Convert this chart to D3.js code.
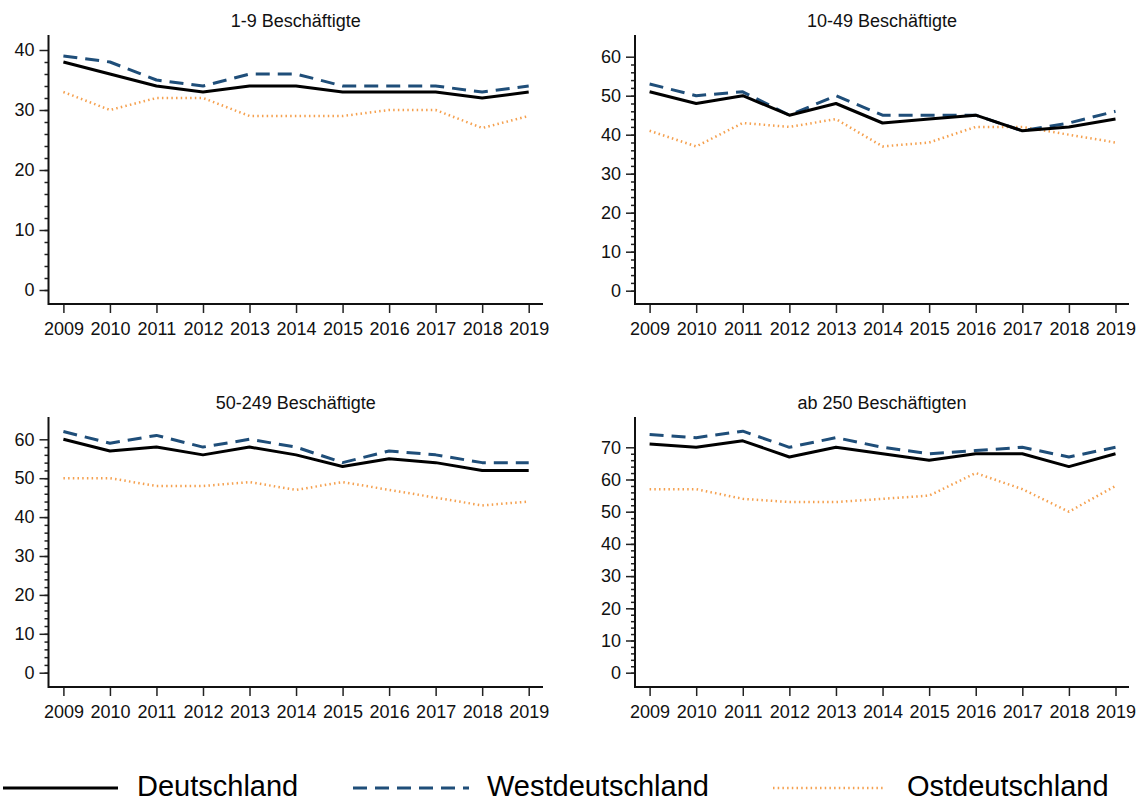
<!DOCTYPE html>
<html>
<head>
  <meta charset="UTF-8">
  <style>
    body { margin: 0; background: #fff; }
    svg { display: block; font-family: Arial, "Liberation Sans", sans-serif; }
  </style>
</head>
<body>
<svg></svg>
<script src="https://d3js.org/d3.v7.min.js"></script>
<script>

let width = 1140, height = 802;

let svg = d3.select("svg")
    .attr("width", width)
    .attr("height", height);

// data
const years = [2009, 2010, 2011, 2012, 2013, 2014, 2015, 2016, 2017, 2018, 2019];
const panelTitles = ["1-9 Beschäftigte", "10-49 Beschäftigte", "50-249 Beschäftigte", "ab 250 Beschäftigten"];
const yTicks = [
    [0, 10, 20, 30, 40],
    [0, 10, 20, 30, 40, 50, 60],
    [0, 10, 20, 30, 40, 50, 60],
    [0, 10, 20, 30, 40, 50, 60, 70]
];
const deutschland = [
    [38, 36, 34, 33, 34, 34, 33, 33, 33, 32, 33],
    [51, 48, 50, 45, 48, 43, 44, 45, 41, 42, 44],
    [60, 57, 58, 56, 58, 56, 53, 55, 54, 52, 52],
    [71, 70, 72, 67, 70, 68, 66, 68, 68, 64, 68]
];
const westdeutschland = [
    [39, 38, 35, 34, 36, 36, 34, 34, 34, 33, 34],
    [53, 50, 51, 45, 50, 45, 45, 45, 41, 43, 46],
    [62, 59, 61, 58, 60, 58, 54, 57, 56, 54, 54],
    [74, 73, 75, 70, 73, 70, 68, 69, 70, 67, 70]
];
const ostdeutschland = [
    [33, 30, 32, 32, 29, 29, 29, 30, 30, 27, 29],
    [41, 37, 43, 42, 44, 37, 38, 42, 42, 40, 38],
    [50, 50, 48, 48, 49, 47, 49, 47, 45, 43, 44],
    [57, 57, 54, 53, 53, 54, 55, 62, 57, 50, 58]
];
const seriesNames = ["Deutschland", "Westdeutschland", "Ostdeutschland"];

// line styles
const styles = [
    { color: "#000000", width: 3, dash: null },
    { color: "#1f4e79", width: 3, dash: "14,8" },
    { color: "#f5a04e", width: 2.5, dash: "1.5,3.2" }
];

// panel layout (pixels)
const layout = [
    { axisX: 48.5, x0: 63.4, x1: 528.7, right: 543, top: 35, zeroY: 290, maxY: 50, baseY: 304, titleY: 27 },
    { axisX: 635, x0: 649.6, x1: 1115.5, right: 1129, top: 35, zeroY: 290.7, maxY: 56.7, baseY: 304, titleY: 27 },
    { axisX: 48.5, x0: 63.4, x1: 528.7, right: 543, top: 417, zeroY: 672.7, maxY: 439.3, baseY: 687, titleY: 409 },
    { axisX: 635, x0: 649.6, x1: 1115.5, right: 1129, top: 417, zeroY: 672.7, maxY: 447.3, baseY: 687, titleY: 409 }
];

panelTitles.forEach((title, i) => {
    let L = layout[i];
    let ticks = yTicks[i];
    let maxTick = d3.max(ticks);

    let x = d3.scaleLinear().domain([years[0], years[years.length - 1]]).range([L.x0, L.x1]);
    let y = d3.scaleLinear().domain([0, maxTick]).range([L.zeroY, L.maxY]);

    let g = svg.append("g").attr("class", "panel");

    // title
    g.append("text")
        .attr("x", (L.axisX + L.right) / 2)
        .attr("y", L.titleY)
        .attr("text-anchor", "middle")
        .attr("font-size", "18px")
        .attr("fill", "#111")
        .text(title);

    // minor y ticks
    let minor = g.append("g")
        .attr("transform", "translate(" + L.axisX + ",0)")
        .call(d3.axisLeft(y).tickValues(d3.range(0, maxTick, 2)).tickSize(4).tickFormat(""));
    minor.select(".domain").remove();
    minor.selectAll("line").attr("stroke", "#222").attr("stroke-width", 1.5);

    // major y ticks
    let yAxis = g.append("g")
        .attr("transform", "translate(" + L.axisX + ",0)")
        .call(d3.axisLeft(y).tickValues(ticks).tickSize(9).tickPadding(5));
    yAxis.select(".domain").remove();
    yAxis.selectAll("line").attr("stroke", "#222").attr("stroke-width", 1.5);
    yAxis.selectAll("text").attr("font-size", "18px").attr("fill", "#111")
        .attr("font-family", "Arial, 'Liberation Sans', sans-serif");

    // x ticks
    let xAxis = g.append("g")
        .attr("transform", "translate(0," + L.baseY + ")")
        .call(d3.axisBottom(x).tickValues(years).tickFormat(d3.format("d")).tickSize(9).tickPadding(9));
    xAxis.select(".domain").remove();
    xAxis.selectAll("line").attr("stroke", "#222").attr("stroke-width", 1.5);
    xAxis.selectAll("text").attr("font-size", "18px").attr("fill", "#111")
        .attr("font-family", "Arial, 'Liberation Sans', sans-serif");

    // axis lines
    g.append("path")
        .attr("d", "M" + L.axisX + "," + L.top + "V" + L.baseY + "H" + L.right)
        .attr("fill", "none")
        .attr("stroke", "#111")
        .attr("stroke-width", 2);

    // series
    let line = d3.line().x((d, j) => x(years[j])).y(d => y(d));
    [ostdeutschland, westdeutschland, deutschland].forEach((series, k) => {
        let s = styles[2 - k];
        g.append("path")
            .datum(series[i])
            .attr("d", line)
            .attr("fill", "none")
            .attr("stroke", s.color)
            .attr("stroke-width", s.width)
            .attr("stroke-dasharray", s.dash)
            .attr("stroke-linejoin", "round");
    });
});

// legend
const legendPos = [
    { lx0: 3, lx1: 118, tx: 137 },
    { lx0: 353, lx1: 469, tx: 487 },
    { lx0: 773, lx1: 885, tx: 907 }
];
let legend = svg.append("g").attr("class", "legend");
seriesNames.forEach((name, k) => {
    let p = legendPos[k];
    legend.append("line")
        .attr("x1", p.lx0).attr("x2", p.lx1)
        .attr("y1", 788).attr("y2", 788)
        .attr("stroke", styles[k].color)
        .attr("stroke-width", styles[k].width)
        .attr("stroke-dasharray", styles[k].dash);
    legend.append("text")
        .attr("x", p.tx)
        .attr("y", 796)
        .attr("font-size", "29px")
        .attr("fill", "#000")
        .text(name);
});

</script>
</body>
</html>
